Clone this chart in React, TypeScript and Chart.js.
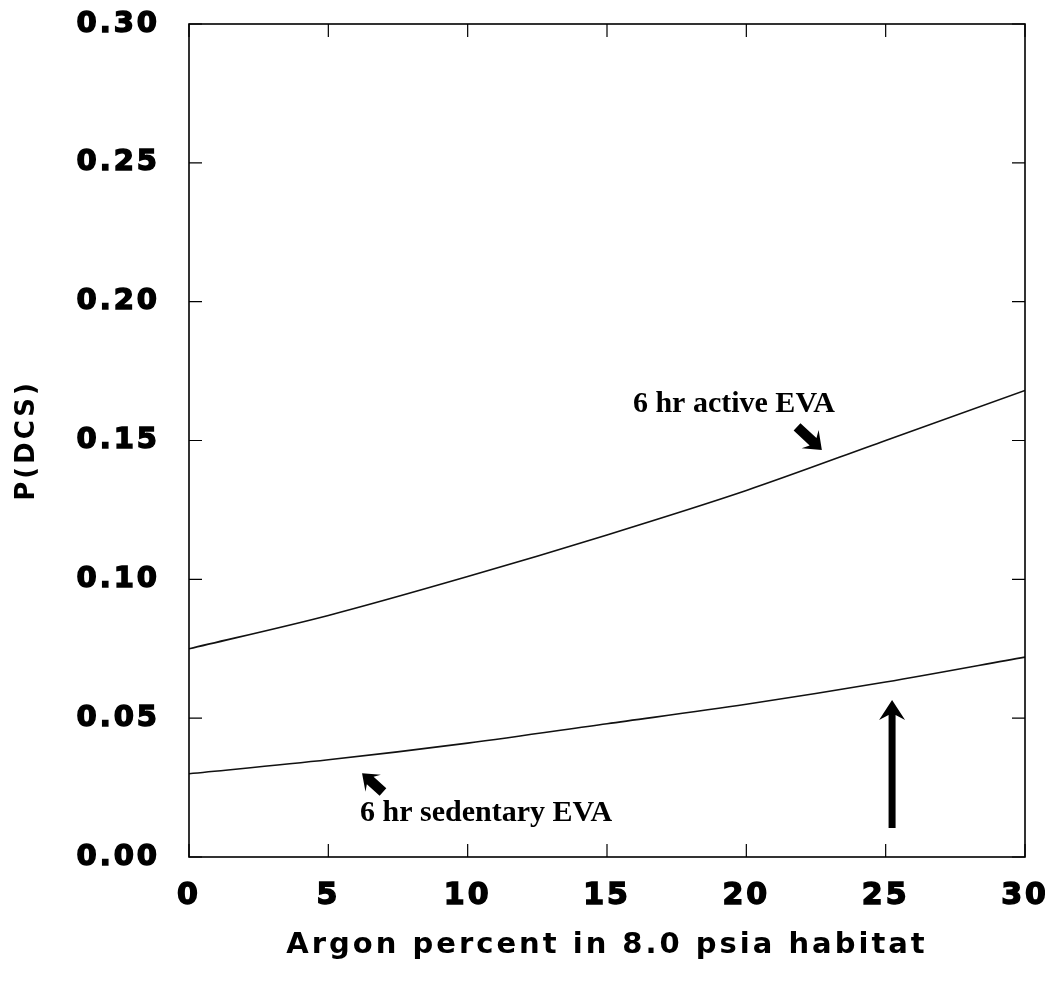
import React, { useEffect, useRef } from "react";
import { Chart, registerables } from "chart.js";

Chart.register(...registerables);

// ---- data ----
const argonPercent = [0, 5, 10, 15, 20, 25, 30];
const activeEVA = [0.075, 0.087, 0.101, 0.116, 0.132, 0.15, 0.168];
const sedentaryEVA = [0.03, 0.035, 0.041, 0.048, 0.055, 0.063, 0.072];
const xTickValues = [0, 5, 10, 15, 20, 25, 30];
const yTickValues = [0, 0.05, 0.1, 0.15, 0.2, 0.25, 0.3];
const xTitle = "Argon percent in 8.0 psia habitat";
const yTitle = "P(DCS)";
const activeLabel = "6 hr active EVA";
const sedentaryLabel = "6 hr sedentary EVA";

// annotation anchors (data units)
const activeText = { x: 15.93, y: 0.1603 };
const activeArrow = { x1: 21.82, y1: 0.1549, x2: 22.71, y2: 0.1466 };
const sedentaryText = { x: 6.14, y: 0.013 };
const sedentaryArrow = { x1: 6.96, y1: 0.0234, x2: 6.21, y2: 0.0302 };
const bigArrow = { x1: 25.23, y1: 0.0104, x2: 25.23, y2: 0.0565 };

const TICK_FONT = "DejaVu Sans";

function drawArrow(
  ctx: CanvasRenderingContext2D,
  x1: number, y1: number, x2: number, y2: number,
  shaftW: number, headW: number, headL: number, notch: number
) {
  const dx = x2 - x1, dy = y2 - y1;
  const len = Math.hypot(dx, dy);
  const ux = dx / len, uy = dy / len;
  const px = -uy, py = ux;
  const bx = x2 - ux * headL, by = y2 - uy * headL;
  const nx = bx + ux * notch, ny = by + uy * notch;
  ctx.beginPath();
  ctx.moveTo(x1 + px * shaftW / 2, y1 + py * shaftW / 2);
  ctx.lineTo(nx + px * shaftW / 2, ny + py * shaftW / 2);
  ctx.lineTo(bx + px * headW / 2, by + py * headW / 2);
  ctx.lineTo(x2, y2);
  ctx.lineTo(bx - px * headW / 2, by - py * headW / 2);
  ctx.lineTo(nx - px * shaftW / 2, ny - py * shaftW / 2);
  ctx.lineTo(x1 - px * shaftW / 2, y1 - py * shaftW / 2);
  ctx.closePath();
  ctx.fill();
}

const framePlugin = {
  id: "frameAndNotes",
  beforeDraw(chart: any) {
    (chart.ctx as any).letterSpacing = "3px";
  },
  afterDraw(chart: any) {
    const ctx: CanvasRenderingContext2D = chart.ctx;
    const { left, right, top, bottom } = chart.chartArea;
    const xs = chart.scales.x;
    const ys = chart.scales.y;
    ctx.save();
    (ctx as any).letterSpacing = "0px";
    ctx.strokeStyle = "#000";
    ctx.fillStyle = "#000";
    ctx.lineWidth = 1.6;
    ctx.strokeRect(left, top, right - left, bottom - top);
    // inward ticks
    ctx.lineWidth = 1.2;
    ctx.beginPath();
    xTickValues.forEach((v) => {
      const px = xs.getPixelForValue(v);
      ctx.moveTo(px, bottom);
      ctx.lineTo(px, bottom - 13);
      ctx.moveTo(px, top);
      ctx.lineTo(px, top + 13);
    });
    yTickValues.forEach((v) => {
      const py = ys.getPixelForValue(v);
      ctx.moveTo(left, py);
      ctx.lineTo(left + 13, py);
      ctx.moveTo(right, py);
      ctx.lineTo(right - 13, py);
    });
    ctx.stroke();

    // annotations
    ctx.font = "bold 30px 'Liberation Serif'";
    ctx.textAlign = "left";
    ctx.textBaseline = "alphabetic";
    ctx.fillText(activeLabel, xs.getPixelForValue(activeText.x), ys.getPixelForValue(activeText.y));
    ctx.fillText(sedentaryLabel, xs.getPixelForValue(sedentaryText.x), ys.getPixelForValue(sedentaryText.y));

    drawArrow(ctx,
      xs.getPixelForValue(activeArrow.x1), ys.getPixelForValue(activeArrow.y1),
      xs.getPixelForValue(activeArrow.x2), ys.getPixelForValue(activeArrow.y2),
      10, 25, 16, 4);
    drawArrow(ctx,
      xs.getPixelForValue(sedentaryArrow.x1), ys.getPixelForValue(sedentaryArrow.y1),
      xs.getPixelForValue(sedentaryArrow.x2), ys.getPixelForValue(sedentaryArrow.y2),
      10, 23, 15, 4);
    drawArrow(ctx,
      xs.getPixelForValue(bigArrow.x1), ys.getPixelForValue(bigArrow.y1),
      xs.getPixelForValue(bigArrow.x2), ys.getPixelForValue(bigArrow.y2),
      7, 26, 20, 5);
    ctx.restore();
  },
};

export default function App() {
  const ref = useRef<HTMLCanvasElement | null>(null);

  useEffect(() => {
    if (!ref.current) return;
    const mk = (vals: number[]) => argonPercent.map((x, i) => ({ x, y: vals[i] }));
    const zeroPad = (s: any) => {
      s.paddingTop = 0;
      s.paddingBottom = 0;
      s.paddingLeft = 0;
      s.paddingRight = 0;
    };
    const chart = new Chart(ref.current, {
      type: "line",
      data: {
        datasets: [
          {
            label: activeLabel,
            data: mk(activeEVA),
            borderColor: "#111",
            borderWidth: 1.6,
            pointRadius: 0,
            cubicInterpolationMode: "monotone",
            fill: false,
          },
          {
            label: sedentaryLabel,
            data: mk(sedentaryEVA),
            borderColor: "#111",
            borderWidth: 1.6,
            pointRadius: 0,
            cubicInterpolationMode: "monotone",
            fill: false,
          },
        ],
      },
      options: {
        animation: false,
        responsive: true,
        maintainAspectRatio: false,
        layout: { padding: { top: 16, right: 20, left: 0, bottom: 0 } },
        plugins: { legend: { display: false }, tooltip: { enabled: false } },
        scales: {
          x: {
            type: "linear",
            min: 0,
            max: 30,
            afterBuildTicks: (s: any) => {
              s.ticks = xTickValues.map((v) => ({ value: v }));
            },
            afterFit: (s: any) => {
              s.height = 126;
              zeroPad(s);
            },
            grid: { display: false, drawTicks: false },
            border: { display: false },
            ticks: {
              color: "#000",
              padding: 21,
              maxRotation: 0,
              textStrokeColor: "#000",
              textStrokeWidth: 1.5,
              font: { family: TICK_FONT, weight: "bold", size: 30 },
              callback: (v: any) => String(v),
            },
            title: {
              display: true,
              text: xTitle,
              color: "#000",
              font: { family: TICK_FONT, weight: "bold", size: 29 },
              padding: { top: 0, bottom: 20 },
            },
          },
          y: {
            type: "linear",
            min: 0,
            max: 0.3,
            afterBuildTicks: (s: any) => {
              s.ticks = yTickValues.map((v) => ({ value: v }));
            },
            afterFit: (s: any) => {
              s.width = 181;
              zeroPad(s);
            },
            grid: { display: false, drawTicks: false },
            border: { display: false },
            ticks: {
              color: "#000",
              padding: 29,
              textStrokeColor: "#000",
              textStrokeWidth: 1.5,
              font: { family: TICK_FONT, weight: "bold", size: 29 },
              callback: (v: any) => Number(v).toFixed(2),
            },
            title: {
              display: true,
              text: yTitle,
              color: "#000",
              font: { family: TICK_FONT, weight: "bold", size: 26 },
              padding: { top: 4, bottom: 0 },
            },
          },
        },
      },
      plugins: [framePlugin],
    } as any);
    return () => chart.destroy();
  }, []);

  return (
    <div style={{ width: 1037, height: 975, position: "relative" }}>
      <canvas ref={ref} />
    </div>
  );
}
